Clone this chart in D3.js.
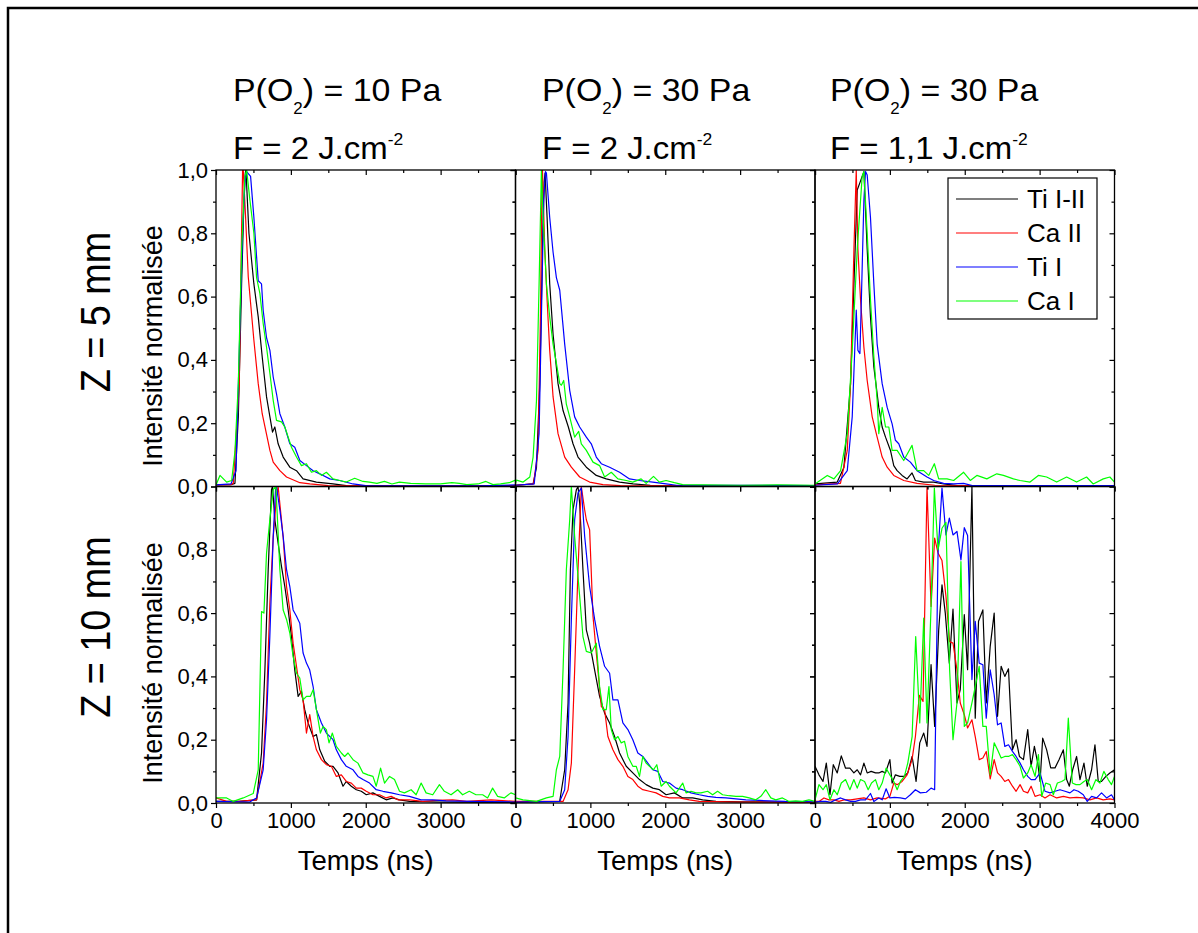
<!DOCTYPE html>
<html><head><meta charset="utf-8">
<script src="https://cdn.jsdelivr.net/npm/d3@7"></script>
<style>body{margin:0;background:#fff;} text{font-family:"Liberation Sans",Arial,sans-serif;fill:#000;}</style>
</head><body><svg id="c" width="1198" height="933"></svg>
<script>
// ---------- labels ----------
const seriesNames = ["Ti I-II", "Ca II", "Ti I", "Ca I"];
const seriesColors = ["#000000", "#ff0000", "#0000ff", "#00ff00"];
const pressures = ["10", "30", "30"];
const fluences = ["2", "2", "1,1"];
const zLabels = ["Z = 5 mm", "Z = 10 mm"];
const xMajorTicks = [0, 1000, 2000, 3000, 4000];
const xMinorTicks = [500, 1500, 2500, 3500];
const yMajorTicks = [0, 0.2, 0.4, 0.6, 0.8, 1.0];
const yMinorTicks = [0.1, 0.3, 0.5, 0.7, 0.9];

// ---------- data: [time (ns), normalised intensity] ----------
// Row 1 (Z = 5 mm), column 1: P = 10 Pa, F = 2
const p1_TiIII = [[0,0.005],[200,0.006],[253,0.01],[298,0.22],[342,0.64],[373,0.9],[391,0.99],[400,1.0],[440,0.8],[475,0.715],[506,0.64],[564,0.536],[617,0.41],[675,0.283],[720,0.22],[755,0.172],[786,0.188],[830,0.135],[897,0.093],[986,0.061],[1075,0.05],[1163,0.024],[1341,0.014],[1563,0.008],[1740,0.003],[2500,0.002],[4000,0.002]];
const p1_CaII = [[0,0.005],[200,0.006],[231,0.01],[311,0.325],[338,0.75],[355,1.0],[364,1.0],[395,0.852],[431,0.662],[506,0.462],[564,0.325],[617,0.23],[720,0.114],[764,0.077],[853,0.05],[942,0.03],[1120,0.012],[1253,0.008],[1500,0.003],[4000,0.002]];
const p1_TiI = [[0,0.005],[200,0.008],[267,0.05],[311,0.43],[355,0.8],[386,0.96],[409,0.995],[462,0.98],[506,0.85],[542,0.726],[564,0.65],[608,0.64],[630,0.557],[675,0.47],[720,0.43],[764,0.346],[808,0.293],[853,0.23],[919,0.188],[986,0.135],[1052,0.124],[1120,0.082],[1208,0.066],[1297,0.05],[1386,0.04],[1519,0.024],[1652,0.019],[1830,0.008],[2000,0.003],[3500,0.002],[4000,0.005]];
const p1_CaI = [[0,0.005],[53,0.035],[142,0.014],[209,0.019],[253,0.11],[298,0.325],[342,0.75],[386,0.98],[409,1.0],[453,0.905],[506,0.8],[542,0.66],[586,0.61],[630,0.515],[675,0.44],[720,0.357],[764,0.272],[808,0.209],[875,0.204],[919,0.188],[964,0.156],[1008,0.124],[1075,0.093],[1141,0.066],[1208,0.072],[1275,0.045],[1341,0.05],[1408,0.035],[1474,0.045],[1563,0.024],[1652,0.019],[1740,0.014],[1852,0.026],[1963,0.016],[2050,0.014],[2150,0.01],[2250,0.016],[2350,0.008],[2450,0.014],[2600,0.01],[2800,0.008],[3000,0.008],[3150,0.012],[3250,0.01],[3350,0.006],[3500,0.008],[3605,0.016],[3700,0.006],[3800,0.008],[3916,0.012],[4000,0.02]];

// Row 1, column 2: P = 30 Pa, F = 2
const p2_TiIII = [[0,0.004],[235,0.008],[280,0.06],[324,0.325],[360,0.75],[382,0.96],[395,0.99],[422,0.85],[457,0.64],[502,0.48],[568,0.325],[635,0.24],[706,0.188],[768,0.135],[835,0.093],[946,0.061],[1079,0.035],[1212,0.024],[1390,0.014],[1570,0.008],[1800,0.004],[4000,0.002]];
const p2_CaII = [[0,0.004],[240,0.008],[302,0.114],[333,0.536],[355,0.98],[360,1.0],[391,0.75],[422,0.59],[457,0.43],[502,0.283],[568,0.167],[657,0.093],[746,0.061],[857,0.03],[990,0.014],[1168,0.006],[1400,0.003],[4000,0.002]];
const p2_TiI = [[0,0.004],[250,0.008],[315,0.167],[346,0.536],[377,0.905],[400,0.995],[413,0.99],[457,0.85],[502,0.74],[546,0.66],[591,0.62],[630,0.52],[657,0.45],[724,0.304],[790,0.22],[857,0.188],[946,0.156],[1012,0.135],[1079,0.093],[1146,0.072],[1257,0.061],[1390,0.045],[1523,0.024],[1656,0.019],[1834,0.014],[2011,0.008],[2150,0.004],[4000,0.003]];
const p2_CaI = [[0,0.01],[13,0.02],[102,0.014],[191,0.03],[235,0.093],[280,0.27],[315,0.64],[346,1.0],[369,0.85],[413,0.64],[457,0.536],[502,0.45],[546,0.39],[591,0.325],[613,0.32],[644,0.335],[679,0.26],[724,0.22],[790,0.156],[844,0.174],[879,0.135],[946,0.114],[1035,0.077],[1123,0.066],[1190,0.03],[1279,0.045],[1368,0.024],[1479,0.019],[1567,0.014],[1678,0.024],[1745,0.01],[1843,0.032],[1922,0.014],[2011,0.019],[2122,0.012],[2233,0.006],[2500,0.005],[3000,0.004],[3500,0.005],[4000,0.004]];

// Row 1, column 3: P = 30 Pa, F = 1,1
const p3_TiIII = [[0,0.008],[297,0.014],[386,0.06],[475,0.325],[520,0.64],[564,0.937],[600,0.96],[630,0.98],[653,0.995],[697,0.75],[741,0.536],[786,0.378],[852,0.25],[897,0.188],[942,0.156],[1008,0.114],[1052,0.066],[1097,0.05],[1163,0.035],[1230,0.024],[1296,0.043],[1341,0.019],[1452,0.014],[1585,0.014],[1718,0.008],[1900,0.003],[4000,0.002]];
const p3_CaII = [[0,0.005],[340,0.01],[431,0.114],[475,0.325],[520,0.75],[551,1.0],[573,0.75],[608,0.59],[653,0.44],[697,0.335],[764,0.22],[830,0.156],[897,0.093],[964,0.061],[1052,0.035],[1186,0.019],[1363,0.01],[1600,0.004],[4000,0.002]];
const p3_TiI = [[0,0.004],[300,0.008],[431,0.05],[497,0.22],[551,0.557],[573,0.43],[600,0.42],[617,0.57],[653,0.905],[675,0.995],[697,0.984],[741,0.85],[786,0.64],[830,0.45],[897,0.325],[964,0.25],[1030,0.198],[1074,0.146],[1119,0.135],[1185,0.093],[1274,0.077],[1363,0.05],[1496,0.03],[1585,0.019],[1718,0.01],[1852,0.008],[1985,0.01],[2100,0.003],[4000,0.003]];
const p3_CaI = [[0,0.008],[164,0.035],[253,0.024],[342,0.05],[431,0.167],[497,0.43],[564,0.75],[630,0.98],[653,0.995],[697,0.8],[741,0.59],[786,0.41],[830,0.272],[852,0.167],[897,0.25],[942,0.188],[986,0.188],[1030,0.114],[1097,0.114],[1185,0.082],[1296,0.13],[1363,0.05],[1452,0.05],[1519,0.035],[1594,0.072],[1652,0.024],[1763,0.024],[1852,0.019],[1985,0.045],[2074,0.019],[2162,0.035],[2295,0.024],[2428,0.04],[2517,0.035],[2650,0.024],[2739,0.019],[2872,0.014],[2983,0.035],[3094,0.03],[3228,0.014],[3361,0.03],[3494,0.014],[3627,0.03],[3716,0.008],[3850,0.024],[3938,0.03],[4000,0.014]];

// Row 2 (Z = 10 mm), column 1
const p4_TiIII = [[0,0.005],[300,0.005],[542,0.01],[608,0.158],[653,0.42],[697,0.737],[741,0.99],[755,1.0],[786,0.895],[830,0.82],[875,0.747],[919,0.684],[964,0.61],[1008,0.526],[1052,0.42],[1097,0.337],[1141,0.353],[1185,0.295],[1230,0.253],[1297,0.21],[1341,0.216],[1386,0.168],[1452,0.132],[1519,0.116],[1563,0.116],[1630,0.095],[1696,0.053],[1740,0.068],[1807,0.053],[1874,0.042],[1940,0.037],[2007,0.026],[2096,0.032],[2184,0.021],[2273,0.01],[2362,0.016],[2451,0.01],[2584,0.005],[2800,0.004],[3000,0.003],[4000,0.002]];
const p4_CaII = [[0,0.016],[142,0.005],[320,0.005],[542,0.01],[630,0.126],[675,0.316],[719,0.63],[764,0.84],[808,0.968],[830,1.0],[897,0.84],[942,0.684],[986,0.61],[1030,0.505],[1075,0.432],[1119,0.358],[1163,0.326],[1208,0.221],[1252,0.279],[1297,0.21],[1341,0.168],[1408,0.137],[1474,0.121],[1541,0.116],[1607,0.084],[1674,0.089],[1740,0.068],[1807,0.063],[1874,0.047],[1940,0.047],[2007,0.037],[2096,0.026],[2184,0.026],[2273,0.016],[2340,0.021],[2429,0.01],[2584,0.01],[2762,0.005],[2940,0.008],[3161,0.01],[3350,0.005],[3672,0.01],[4000,0.005]];
const p4_TiI = [[0,0.005],[450,0.003],[542,0.016],[630,0.105],[675,0.263],[719,0.526],[764,0.84],[795,0.99],[808,1.0],[853,0.926],[897,0.842],[942,0.737],[986,0.684],[1030,0.61],[1075,0.59],[1119,0.568],[1163,0.474],[1208,0.442],[1252,0.42],[1297,0.368],[1341,0.295],[1408,0.253],[1474,0.221],[1563,0.2],[1607,0.168],[1674,0.137],[1740,0.116],[1830,0.105],[1896,0.084],[1963,0.074],[2051,0.063],[2140,0.042],[2229,0.037],[2340,0.032],[2451,0.026],[2584,0.021],[2740,0.01],[2895,0.01],[3072,0.007],[3400,0.005],[4000,0.003]];
const p4_CaI = [[0,0.016],[142,0.016],[231,0.005],[364,0.016],[497,0.03],[564,0.105],[608,0.605],[640,0.6],[675,0.79],[719,0.895],[764,0.99],[800,1.0],[853,0.737],[897,0.61],[942,0.58],[986,0.537],[1030,0.463],[1075,0.41],[1119,0.395],[1163,0.326],[1208,0.337],[1261,0.337],[1297,0.358],[1341,0.295],[1394,0.221],[1430,0.242],[1474,0.232],[1510,0.19],[1554,0.221],[1607,0.179],[1674,0.158],[1718,0.147],[1763,0.158],[1830,0.137],[1896,0.126],[1963,0.095],[2029,0.089],[2096,0.084],[2140,0.053],[2198,0.11],[2251,0.063],[2318,0.084],[2384,0.074],[2451,0.037],[2517,0.032],[2606,0.042],[2673,0.026],[2740,0.063],[2806,0.032],[2895,0.026],[2984,0.058],[3050,0.037],[3139,0.026],[3228,0.042],[3294,0.026],[3383,0.037],[3472,0.026],[3561,0.026],[3627,0.016],[3694,0.047],[3761,0.021],[3850,0.016],[3939,0.032],[4000,0.026]];

// Row 2, column 2
const p5_TiIII = [[0,0.003],[590,0.005],[657,0.105],[702,0.316],[733,0.737],[768,0.926],[813,0.99],[835,1.0],[857,0.947],[901,0.737],[946,0.547],[990,0.505],[1057,0.42],[1123,0.337],[1190,0.284],[1257,0.253],[1323,0.21],[1390,0.158],[1479,0.116],[1567,0.095],[1656,0.074],[1745,0.058],[1834,0.047],[1922,0.042],[2011,0.026],[2122,0.032],[2233,0.016],[2366,0.016],[2500,0.01],[2677,0.005],[3000,0.004],[4000,0.002]];
const p5_CaII = [[0,0.005],[635,0.005],[702,0.042],[746,0.126],[790,0.42],[835,0.737],[879,1.0],[924,0.926],[946,0.895],[990,0.863],[1035,0.59],[1079,0.474],[1146,0.305],[1190,0.295],[1234,0.21],[1301,0.168],[1368,0.137],[1434,0.116],[1501,0.084],[1567,0.074],[1634,0.053],[1700,0.042],[1789,0.037],[1878,0.032],[1967,0.021],[2056,0.016],[2189,0.016],[2322,0.01],[2455,0.005],[3000,0.003],[4000,0.002]];
const p5_TiI = [[0,0.003],[590,0.005],[657,0.042],[702,0.21],[746,0.58],[790,0.895],[835,0.98],[879,0.995],[924,0.842],[990,0.684],[1057,0.58],[1123,0.495],[1190,0.432],[1257,0.41],[1301,0.326],[1368,0.326],[1434,0.253],[1501,0.232],[1567,0.2],[1634,0.158],[1700,0.147],[1767,0.126],[1834,0.105],[1900,0.1],[1967,0.068],[2056,0.063],[2145,0.047],[2233,0.042],[2344,0.032],[2455,0.026],[2566,0.021],[2677,0.018],[2811,0.016],[2944,0.013],[3077,0.01],[3255,0.008],[3600,0.005],[4000,0.004]];
const p5_CaI = [[0,0.016],[100,0.01],[280,0.005],[413,0.016],[502,0.021],[546,0.105],[591,0.147],[635,0.42],[679,0.737],[724,0.895],[746,1.0],[790,0.842],[857,0.653],[901,0.526],[946,0.479],[1012,0.474],[1079,0.505],[1123,0.368],[1168,0.295],[1212,0.295],[1248,0.368],[1279,0.232],[1323,0.2],[1368,0.21],[1412,0.19],[1456,0.195],[1501,0.147],[1567,0.116],[1612,0.116],[1656,0.084],[1700,0.147],[1745,0.126],[1789,0.116],[1843,0.105],[1887,0.121],[1945,0.053],[2011,0.068],[2056,0.053],[2145,0.032],[2233,0.063],[2278,0.032],[2344,0.037],[2411,0.032],[2477,0.032],[2566,0.037],[2633,0.026],[2699,0.037],[2766,0.026],[2855,0.023],[2944,0.021],[3033,0.021],[3121,0.016],[3210,0.01],[3277,0.021],[3343,0.042],[3410,0.016],[3477,0.01],[3565,0.016],[3654,0.005],[3743,0.007],[3832,0.005],[3920,0.01],[4000,0.005]];

// Row 2, column 3
const p6_TiIII = [[0,0.116],[53,0.089],[107,0.068],[151,0.126],[200,0.026],[244,0.121],[297,0.095],[351,0.149],[408,0.11],[466,0.11],[519,0.095],[564,0.105],[608,0.089],[653,0.126],[697,0.095],[750,0.1],[808,0.095],[852,0.095],[897,0.1],[941,0.095],[1000,0.137],[1030,0.063],[1074,0.089],[1132,0.084],[1185,0.084],[1239,0.095],[1297,0.147],[1350,0.068],[1399,0.19],[1452,0.221],[1496,0.179],[1550,0.437],[1598,0.242],[1652,0.547],[1696,0.689],[1740,0.6],[1794,0.442],[1843,0.613],[1896,0.316],[1940,0.358],[1994,0.595],[2038,0.421],[2096,1.0],[2140,0.268],[2184,0.574],[2242,0.61],[2287,0.316],[2340,0.495],[2393,0.6],[2438,0.274],[2486,0.432],[2535,0.4],[2584,0.424],[2637,0.168],[2686,0.2],[2730,0.147],[2784,0.137],[2841,0.232],[2886,0.116],[2930,0.179],[2975,0.126],[3006,0.068],[3041,0.205],[3094,0.168],[3148,0.111],[3206,0.111],[3259,0.137],[3317,0.168],[3361,0.074],[3397,0.053],[3441,0.105],[3494,0.147],[3539,0.074],[3592,0.126],[3636,0.053],[3694,0.105],[3739,0.184],[3783,0.068],[3827,0.068],[3885,0.084],[3938,0.095],[4000,0.105]];
const p6_CaII = [[0,0.005],[53,0.005],[120,0.016],[186,0.01],[253,0.01],[320,0.005],[386,0.01],[475,0.01],[564,0.013],[653,0.016],[741,0.01],[830,0.016],[941,0.013],[1000,0.021],[1052,0.063],[1097,0.058],[1163,0.068],[1230,0.089],[1296,0.137],[1341,0.21],[1394,0.34],[1443,0.321],[1496,1.0],[1550,0.621],[1598,0.837],[1643,0.79],[1696,0.766],[1749,0.653],[1798,0.51],[1843,0.505],[1896,0.421],[1940,0.316],[1994,0.279],[2038,0.237],[2096,0.263],[2140,0.21],[2193,0.137],[2242,0.142],[2287,0.163],[2340,0.076],[2393,0.137],[2438,0.095],[2486,0.084],[2535,0.068],[2584,0.074],[2637,0.053],[2686,0.037],[2739,0.058],[2784,0.037],[2841,0.032],[2886,0.053],[2939,0.021],[3006,0.026],[3072,0.016],[3139,0.026],[3228,0.016],[3317,0.021],[3405,0.016],[3494,0.018],[3583,0.016],[3672,0.01],[3761,0.016],[3849,0.01],[3938,0.013],[4000,0.01]];
const p6_TiI = [[0,0.003],[75,0.005],[143,0.005],[209,0.002],[275,0.01],[342,0.016],[408,0.01],[475,0.005],[541,0.005],[608,0.01],[675,0.01],[741,0.03],[786,0.005],[852,0.016],[897,0.01],[950,0.045],[1000,0.016],[1061,0.018],[1141,0.016],[1208,0.013],[1274,0.026],[1341,0.042],[1408,0.032],[1487,0.034],[1550,0.047],[1598,0.042],[1643,0.787],[1696,0.995],[1749,0.847],[1794,0.9],[1843,0.847],[1896,0.858],[1949,0.768],[1994,0.87],[2038,0.845],[2096,0.39],[2140,0.574],[2193,0.442],[2242,0.437],[2287,0.268],[2340,0.421],[2393,0.342],[2438,0.247],[2486,0.253],[2535,0.179],[2584,0.184],[2637,0.163],[2686,0.147],[2739,0.126],[2784,0.105],[2841,0.084],[2886,0.074],[2939,0.074],[3006,0.095],[3072,0.037],[3139,0.032],[3206,0.037],[3272,0.042],[3339,0.037],[3405,0.032],[3459,0.042],[3516,0.037],[3583,0.026],[3636,0.005],[3694,0.021],[3761,0.016],[3827,0.032],[3894,0.016],[3960,0.026],[4000,0.01]];
const p6_CaI = [[0,0.01],[53,0.058],[107,0.042],[151,0.058],[200,0.01],[253,0.042],[297,0.026],[351,0.063],[408,0.074],[466,0.042],[519,0.074],[564,0.047],[608,0.074],[662,0.068],[710,0.042],[755,0.063],[808,0.074],[852,0.042],[897,0.063],[950,0.11],[1000,0.089],[1052,0.068],[1097,0.042],[1141,0.068],[1194,0.084],[1239,0.126],[1297,0.21],[1345,0.526],[1399,0.253],[1452,0.584],[1496,0.253],[1550,0.621],[1594,0.995],[1643,0.8],[1696,0.868],[1749,0.887],[1798,0.421],[1843,0.2],[1896,0.316],[1949,0.763],[1994,0.242],[2038,0.253],[2096,0.316],[2140,0.368],[2193,0.432],[2242,0.242],[2287,0.242],[2340,0.089],[2393,0.19],[2438,0.168],[2486,0.142],[2535,0.147],[2584,0.147],[2637,0.153],[2686,0.137],[2739,0.116],[2784,0.079],[2841,0.095],[2886,0.121],[2939,0.084],[2984,0.153],[3028,0.021],[3081,0.063],[3139,0.058],[3183,0.026],[3237,0.063],[3294,0.068],[3339,0.074],[3383,0.268],[3437,0.063],[3485,0.058],[3539,0.058],[3592,0.068],[3636,0.074],[3694,0.042],[3752,0.074],[3805,0.063],[3858,0.1],[3916,0.074],[3960,0.058],[4000,0.084]];

const panelData = [
  [[p1_TiIII, p1_CaII, p1_TiI, p1_CaI], [p2_TiIII, p2_CaII, p2_TiI, p2_CaI], [p3_TiIII, p3_CaII, p3_TiI, p3_CaI]],
  [[p4_TiIII, p4_CaII, p4_TiI, p4_CaI], [p5_TiIII, p5_CaII, p5_TiI, p5_CaI], [p6_TiIII, p6_CaII, p6_TiI, p6_CaI]]
];

// ---------- layout ----------
const colLeft = [216, 515.5, 815];
const panelW = 299.5;
const rowTop = [170, 486.5];
const panelH = 316.5;
const titleX = [233, 542, 830];

const svg = d3.select("#c");
svg.append("rect").attr("width", 1198).attr("height", 933).attr("fill", "#fff");
svg.append("rect").attr("x", 8).attr("y", 8).attr("width", 1400).attr("height", 1200)
  .attr("fill", "none").attr("stroke", "#000").attr("stroke-width", 2.5);

const fmt = d => d3.format(".1f")(d).replace(".", ",");

for (let r = 0; r < 2; r++) {
  for (let c = 0; c < 3; c++) {
    const x = d3.scaleLinear().domain([0, 4000]).range([colLeft[c], colLeft[c] + panelW]);
    const y = d3.scaleLinear().domain([0, 1]).range([rowTop[r] + panelH, rowTop[r]]);
    const id = "clip" + r + c;
    svg.append("clipPath").attr("id", id).append("rect")
      .attr("x", x(0)).attr("y", y(1)).attr("width", panelW).attr("height", panelH);

    const g = svg.append("g");
    const line = d3.line().x(d => x(d[0])).y(d => y(d[1]));
    panelData[r][c].forEach((s, i) => {
      g.append("path").datum(s).attr("d", line).attr("fill", "none")
        .attr("stroke", seriesColors[i]).attr("stroke-width", 1.2)
        .attr("stroke-linejoin", "round").attr("clip-path", `url(#${id})`);
    });

    // axes
    const styleAxis = sel => {
      sel.select(".domain").remove();
      sel.selectAll("line").attr("stroke", "#000").attr("stroke-width", 1.2);
      sel.selectAll("text").attr("font-size", 22).attr("fill", "#000")
        .style("font-family", '"Liberation Sans", Arial, sans-serif');
    };
    const xLabVals = c === 2 ? xMajorTicks : xMajorTicks.slice(0, 4);
    const yLabVals = r === 0 ? yMajorTicks : yMajorTicks.slice(0, 5);
    // bottom (outward)
    svg.append("g").attr("transform", `translate(0,${y(0)})`)
      .call(d3.axisBottom(x).tickValues(xMajorTicks).tickSize(5).tickPadding(4)
        .tickFormat(d => (r === 1 && xLabVals.includes(d)) ? d3.format("d")(d) : ""))
      .call(styleAxis);
    svg.append("g").attr("transform", `translate(0,${y(0)})`)
      .call(d3.axisBottom(x).tickValues(xMinorTicks).tickSize(3).tickFormat(""))
      .call(styleAxis);
    // top (inward)
    svg.append("g").attr("transform", `translate(0,${y(1)})`)
      .call(d3.axisBottom(x).tickValues(xMajorTicks).tickSize(5).tickFormat(""))
      .call(styleAxis);
    svg.append("g").attr("transform", `translate(0,${y(1)})`)
      .call(d3.axisBottom(x).tickValues(xMinorTicks).tickSize(3).tickFormat(""))
      .call(styleAxis);
    // left (outward)
    svg.append("g").attr("transform", `translate(${x(0)},0)`)
      .call(d3.axisLeft(y).tickValues(yMajorTicks).tickSize(5).tickPadding(3)
        .tickFormat(d => (c === 0 && yLabVals.includes(d)) ? fmt(d) : ""))
      .call(styleAxis);
    svg.append("g").attr("transform", `translate(${x(0)},0)`)
      .call(d3.axisLeft(y).tickValues(yMinorTicks).tickSize(3).tickFormat(""))
      .call(styleAxis);
    // right (inward)
    svg.append("g").attr("transform", `translate(${x(4000)},0)`)
      .call(d3.axisLeft(y).tickValues(yMajorTicks).tickSize(5).tickFormat(""))
      .call(styleAxis);
    svg.append("g").attr("transform", `translate(${x(4000)},0)`)
      .call(d3.axisLeft(y).tickValues(yMinorTicks).tickSize(3).tickFormat(""))
      .call(styleAxis);

    // frame
    svg.append("rect").attr("x", x(0)).attr("y", y(1)).attr("width", panelW).attr("height", panelH)
      .attr("fill", "none").attr("stroke", "#000").attr("stroke-width", 1.3);

    if (r === 1) {
      svg.append("text").attr("x", (x(0) + x(4000)) / 2).attr("y", 870)
        .attr("text-anchor", "middle").attr("font-size", 27.5).text("Temps (ns)");
    }
  }
}

// column titles
for (let c = 0; c < 3; c++) {
  const t1 = svg.append("text").attr("transform", `translate(${titleX[c]},101) scale(1.06,1)`).attr("font-size", 32);
  t1.append("tspan").text("P(O");
  t1.append("tspan").attr("font-size", 16).attr("dy", 13).text("2");
  t1.append("tspan").attr("dy", -13).text(") = " + pressures[c] + " Pa");
  const t2 = svg.append("text").attr("transform", `translate(${titleX[c]},159) scale(1.03,1)`).attr("font-size", 32);
  t2.append("tspan").text("F = " + fluences[c] + " J.cm");
  t2.append("tspan").attr("font-size", 17).attr("dy", -14).text("-2");
}

// row labels
const zCenters = [312, 627];
const yLabCenters = [346, 663];
for (let r = 0; r < 2; r++) {
  svg.append("text").attr("transform", `translate(110,${zCenters[r]}) rotate(-90) scale(0.9,1)`)
    .attr("text-anchor", "middle").attr("font-size", 42).text(zLabels[r]);
  svg.append("text").attr("transform", `translate(162,${yLabCenters[r]}) rotate(-90)`)
    .attr("text-anchor", "middle").attr("font-size", 27).text("Intensité normalisée");
}

// legend
const lg = svg.append("g");
lg.append("rect").attr("x", 948).attr("y", 178).attr("width", 149).attr("height", 141)
  .attr("fill", "#fff").attr("stroke", "#000").attr("stroke-width", 1.2);
const legY = d3.scalePoint().domain(seriesNames).range([199, 301]);
seriesNames.forEach((n, i) => {
  lg.append("line").attr("x1", 956).attr("x2", 1018).attr("y1", legY(n)).attr("y2", legY(n))
    .attr("stroke", seriesColors[i]).attr("stroke-width", 1.2);
  lg.append("text").attr("x", 1027).attr("y", legY(n) + 9).attr("font-size", 26).text(n);
});
</script></body></html>
